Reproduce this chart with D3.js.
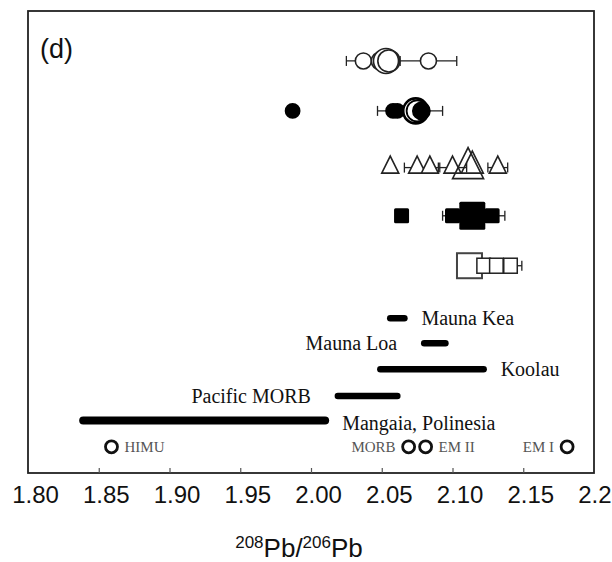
<!DOCTYPE html>
<html><head><meta charset="utf-8">
<script src="https://cdn.jsdelivr.net/npm/d3@7"></script>
<style>body{margin:0;background:#fff}svg{display:block}</style>
</head><body><svg id="chart" width="612" height="562"></svg>
<script>
// ---------- data ----------
const xTickValues = [1.80, 1.85, 1.90, 1.95, 2.00, 2.05, 2.10, 2.15, 2.20];
const xTickLabels = ["1.80", "1.85", "1.90", "1.95", "2.00", "2.05", "2.10", "2.15", "2.20"];

// row levels (arbitrary vertical units)
const rowNames  = ["openCircles", "filledCircles", "triangles", "filledSquares", "openSquares"];
const rowLevels = [16.5, 14.5, 12.35, 10.3, 8.3];

const openCircleX    = [2.037, 2.049, 2.053, 2.055, 2.083];
const openCircleErr  = [0.012, 0, 0, 0, 0.020];
const openCircleKind = ["s", "m", "L", "M", "s"];

const filledCircleX    = [1.987, 2.058, 2.061, 2.074, 2.075, 2.078];
const filledCircleErr  = [0.002, 0.011, 0, 0, 0, 0.015];
const filledCircleKind = ["fs", "fs", "fs", "oL", "oM", "fm"];

const triangleX    = [2.056, 2.075, 2.084, 2.100, 2.111, 2.114, 2.132];
const triangleErr  = [0.002, 0.009, 0.007, 0.010, 0, 0, 0.007];
const triangleKind = ["s", "s", "s", "s", "L", "M", "s"];

const filledSquareX    = [2.064, 2.100, 2.128, 2.114];
const filledSquareErr  = [0, 0.007, 0.009, 0];
const filledSquareKind = ["s", "s", "s", "L"];

const openSquareX    = [2.112, 2.122, 2.131, 2.141];
const openSquareErr  = [0, 0, 0, 0.008];
const openSquareKind = ["L", "s", "s", "s"];

// ranges (thick bars)
const rangeNames  = ["Mauna Kea", "Mauna Loa", "Koolau", "Pacific MORB", "Mangaia, Polinesia"];
const rangeMin    = [2.056, 2.080, 2.049, 2.019, 1.839];
const rangeMax    = [2.066, 2.095, 2.122, 2.061, 2.010];
const rangeLevels = [6.2, 5.2, 4.15, 3.08, 2.1];
const rangeLabelSide = ["right", "left", "right", "left", "right"];

// mantle end-members
const endNames = ["HIMU", "MORB", "EM II", "EM I"];
const endX     = [1.859, 2.069, 2.081, 2.181];
const endLevel = 1.05;
const endLabelSide = ["right", "left", "right", "left"];

// ---------- layout ----------
const svg = d3.select("#chart");
const L = 28, R = 594, T = 11, B = 473;
const x = d3.scaleLinear().domain([1.80, 2.20]).range([L, R]);
const y = d3.scaleLinear().domain([0, 18.5]).range([B, T]);

// frame
svg.append("rect").attr("x", L).attr("y", T).attr("width", R - L).attr("height", B - T)
  .attr("fill", "none").attr("stroke", "#222").attr("stroke-width", 1.8);

// bottom axis (inward ticks, no domain line)
const axis = d3.axisBottom(x).tickValues(xTickValues)
  .tickFormat((d, i) => xTickLabels[i]).tickSizeInner(-5).tickSizeOuter(0).tickPadding(13);
const gAx = svg.append("g").attr("transform", `translate(0,${B})`).call(axis);
gAx.select(".domain").remove();
gAx.selectAll(".tick line").attr("stroke", "#555").attr("stroke-width", 1.2)
  .filter(d => d === 1.80 || d === 2.20).remove();
gAx.selectAll(".tick text").attr("font-family", "Liberation Sans, Arial, sans-serif")
  .attr("font-size", 24).attr("fill", "#111").attr("dy", "0.71em").attr("dx", 7);

// axis title
const title = svg.append("text").attr("x", (L + R) / 2 - 12).attr("y", 557)
  .attr("text-anchor", "middle").attr("font-family", "Liberation Sans, Arial, sans-serif")
  .attr("font-size", 26).attr("fill", "#111");
title.append("tspan").attr("font-size", 17).attr("dy", -9).text("208");
title.append("tspan").attr("dy", 9).text("Pb/");
title.append("tspan").attr("font-size", 17).attr("dy", -9).text("206");
title.append("tspan").attr("dy", 9).text("Pb");

// panel label
svg.append("text").attr("x", 40).attr("y", 58).attr("font-family", "Liberation Sans, Arial, sans-serif")
  .attr("font-size", 27).attr("fill", "#111").text("(d)");

// ---------- helpers ----------
function rowData(xs, errs, kinds) {
  return xs.map((v, i) => ({ x: v, err: errs[i], kind: kinds[i] }));
}
function drawErr(g, data, yy) {
  data.filter(d => d.err > 0).forEach(d => {
    const x0 = x(d.x - d.err), x1 = x(d.x + d.err);
    g.append("line").attr("x1", x0).attr("x2", x1).attr("y1", yy).attr("y2", yy)
      .attr("stroke", "#222").attr("stroke-width", 1.3);
    [x0, x1].forEach(xx => g.append("line").attr("x1", xx).attr("x2", xx)
      .attr("y1", yy - 5).attr("y2", yy + 5).attr("stroke", "#222").attr("stroke-width", 1.3));
  });
}

const gMarks = svg.append("g");

// open circles
{
  const yy = y(rowLevels[0]);
  const data = rowData(openCircleX, openCircleErr, openCircleKind);
  drawErr(gMarks, data, yy);
  const rad = { s: 8, m: 9, L: 12.5, M: 11 };
  gMarks.selectAll(null).data(data).join("circle")
    .attr("cx", d => x(d.x)).attr("cy", yy).attr("r", d => rad[d.kind])
    .attr("fill", "#fff").attr("fill-opacity", d => d.kind === "M" ? 0 : 1)
    .attr("stroke", "#222").attr("stroke-width", 1.6);
}
// filled circles
{
  const yy = y(rowLevels[1]);
  const data = rowData(filledCircleX, filledCircleErr, filledCircleKind);
  drawErr(gMarks, data, yy);
  const rad = { fs: 7, fm: 8.5, oL: 12.5, oM: 10.5 };
  gMarks.selectAll(null).data(data).join("circle")
    .attr("cx", d => x(d.x)).attr("cy", yy).attr("r", d => rad[d.kind])
    .attr("fill", d => d.kind[0] === "f" ? "#000" : "#fff")
    .attr("stroke", "#000").attr("stroke-width", d => d.kind === "oL" ? 2.6 : 1.8);
}
// triangles
{
  const yy = y(rowLevels[2]);
  const data = rowData(triangleX, triangleErr, triangleKind);
  drawErr(gMarks, data, yy + 3);
  const dims = { s: [17, 17], M: [22, 22], L: [31, 31] };
  gMarks.selectAll(null).data(data).join("path")
    .attr("d", d => {
      const [w, h] = dims[d.kind];
      const cx = x(d.x), base = yy + 8.5 + (d.kind === "L" ? 5.5 : 0);
      return `M${cx - w / 2},${base}L${cx + w / 2},${base}L${cx},${base - h}Z`;
    })
    .attr("fill", "#fff").attr("fill-opacity", d => d.kind === "s" ? 1 : 0)
    .attr("stroke", "#222").attr("stroke-width", 1.6).attr("stroke-linejoin", "miter");
}
// filled squares
{
  const yy = y(rowLevels[3]);
  const data = rowData(filledSquareX, filledSquareErr, filledSquareKind);
  drawErr(gMarks, data, yy);
  const dims = { s: [15, 15], L: [26, 28] };
  gMarks.selectAll(null).data(data).join("rect")
    .attr("x", d => x(d.x) - dims[d.kind][0] / 2).attr("y", d => yy - dims[d.kind][1] / 2)
    .attr("width", d => dims[d.kind][0]).attr("height", d => dims[d.kind][1])
    .attr("rx", 1.5).attr("fill", "#000");
}
// open squares
{
  const yy = y(rowLevels[4]);
  const data = rowData(openSquareX, openSquareErr, openSquareKind);
  drawErr(gMarks, data, yy);
  const dims = { s: [13.5, 15], L: [25, 25] };
  gMarks.selectAll(null).data(data).join("rect")
    .attr("x", d => x(d.x) - dims[d.kind][0] / 2).attr("y", d => yy - dims[d.kind][1] / 2)
    .attr("width", d => dims[d.kind][0]).attr("height", d => dims[d.kind][1])
    .attr("fill", "#fff").attr("stroke", d => d.kind === "L" ? "#444" : "#222")
    .attr("stroke-width", d => d.kind === "L" ? 2 : 1.5);
}

// ranges
const rangeData = rangeNames.map((n, i) => ({ name: n, x0: rangeMin[i], x1: rangeMax[i], lev: rangeLevels[i], side: rangeLabelSide[i] }));
svg.append("g").selectAll("line").data(rangeData).join("line")
  .attr("x1", d => x(d.x0)).attr("x2", d => x(d.x1))
  .attr("y1", d => y(d.lev)).attr("y2", d => y(d.lev))
  .attr("stroke", "#000").attr("stroke-width", (d, i) => i === 4 ? 8 : 6.5).attr("stroke-linecap", "round");
svg.append("g").selectAll("text").data(rangeData).join("text")
  .attr("x", d => d.side === "right" ? x(d.x1) + 17 : x(d.x0) - 27)
  .attr("y", d => y(d.lev) + (d.name.startsWith("Mangaia") ? 2 : 0))
  .attr("dy", "0.35em")
  .attr("text-anchor", d => d.side === "right" ? "start" : "end")
  .attr("font-family", "Liberation Serif, Times New Roman, serif")
  .attr("font-size", 20).attr("fill", "#111").text(d => d.name);

// end-members
const endData = endNames.map((n, i) => ({ name: n, x: endX[i], side: endLabelSide[i] }));
const gEnd = svg.append("g");
gEnd.selectAll("circle").data(endData).join("circle")
  .attr("cx", d => x(d.x)).attr("cy", y(endLevel)).attr("r", 6)
  .attr("fill", "#fff").attr("stroke", "#111").attr("stroke-width", 2.8);
gEnd.selectAll("text").data(endData).join("text")
  .attr("x", d => d.side === "right" ? x(d.x) + 13 : x(d.x) - 13)
  .attr("y", y(endLevel)).attr("dy", "0.35em")
  .attr("text-anchor", d => d.side === "right" ? "start" : "end")
  .attr("font-family", "Liberation Serif, Times New Roman, serif")
  .attr("font-size", 15).attr("fill", "#555").text(d => d.name);
</script>
</body></html>
